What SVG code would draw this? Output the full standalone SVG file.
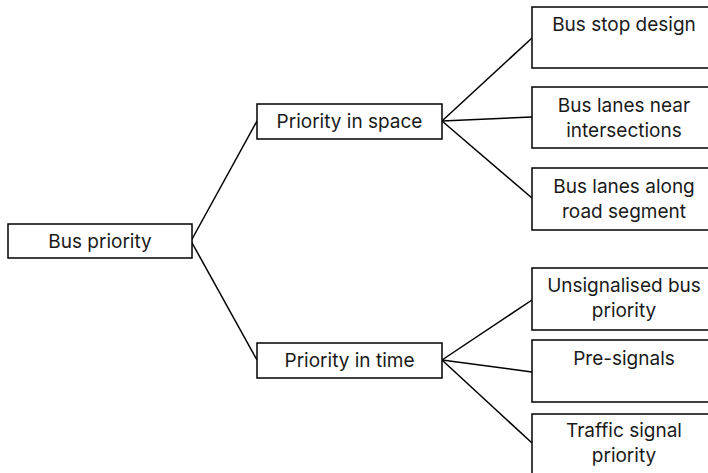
<svg xmlns="http://www.w3.org/2000/svg" width="708" height="473" viewBox="0 0 708 473">
<style>
rect{fill:#fff;stroke:#000;stroke-width:1.5}
text{font-family:Inter,"Liberation Sans",Arial,sans-serif;font-size:19px;fill:#1a1a1a;text-anchor:middle}
.c line{stroke:#000;stroke-width:1.5}
</style>
<rect x="0" y="0" width="708" height="473" style="stroke:none"/>
<g class="c" id="connectors">
<line x1="191" y1="241" x2="257" y2="121"/>
<line x1="191" y1="241" x2="257" y2="360"/>
<line x1="442" y1="121" x2="532" y2="38"/>
<line x1="442" y1="121" x2="532" y2="117"/>
<line x1="442" y1="121" x2="532" y2="198"/>
<line x1="442" y1="360" x2="532" y2="300"/>
<line x1="442" y1="360" x2="532" y2="372"/>
<line x1="442" y1="360" x2="532" y2="443"/>
</g>
<g id="bus-priority"><rect x="8" y="224" width="184" height="34"/><text x="100" y="248">Bus priority</text></g>
<g id="priority-space"><rect x="257" y="104" width="185" height="35"/><text x="349.5" y="128">Priority in space</text></g>
<g id="priority-time"><rect x="257" y="343" width="185" height="35"/><text x="349.5" y="367">Priority in time</text></g>
<g id="bus-stop"><rect x="532" y="7" width="184" height="61"/><text x="624" y="31">Bus stop design</text></g>
<g id="lanes-near"><rect x="532" y="87" width="184" height="61"/><text x="624" y="112">Bus lanes near</text><text x="624" y="137">intersections</text></g>
<g id="lanes-along"><rect x="532" y="168" width="184" height="62"/><text x="624" y="193">Bus lanes along</text><text x="624" y="218">road segment</text></g>
<g id="unsignalised"><rect x="532" y="268" width="184" height="62"/><text x="624" y="292">Unsignalised bus</text><text x="624" y="317">priority</text></g>
<g id="pre-signals"><rect x="532" y="340" width="184" height="62"/><text x="624" y="365">Pre-signals</text></g>
<g id="traffic-signal"><rect x="532" y="414" width="184" height="70"/><text x="624" y="437">Traffic signal</text><text x="624" y="462">priority</text></g>
</svg>
